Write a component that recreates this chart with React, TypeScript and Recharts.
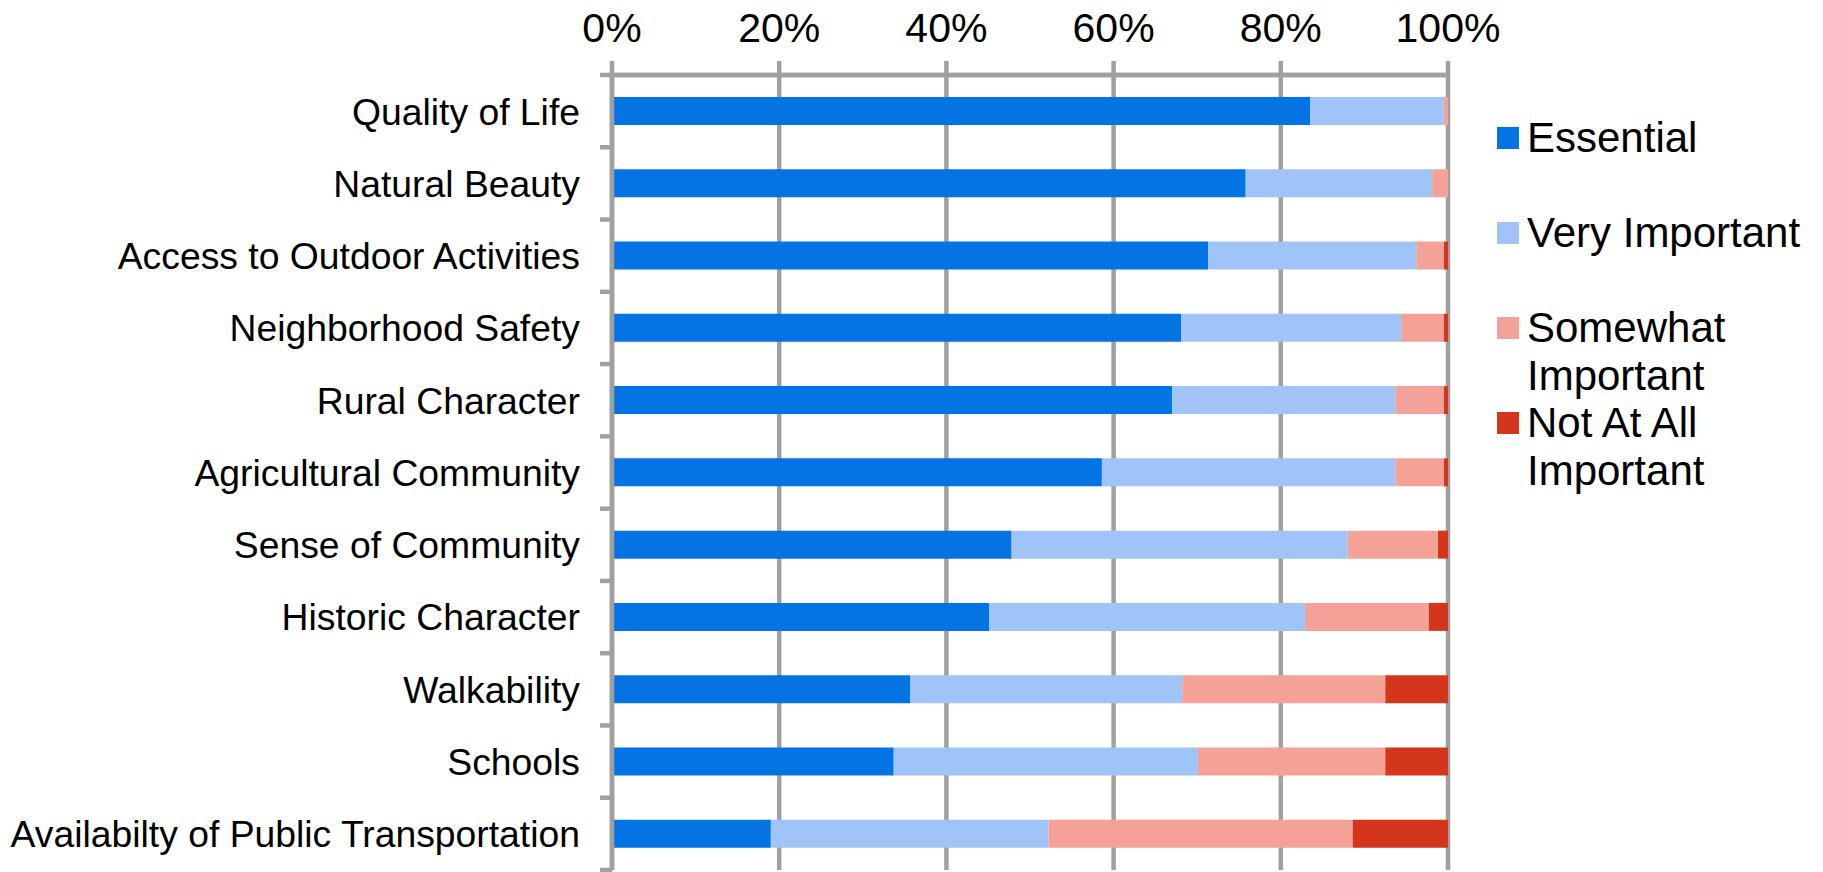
import { BarChart, Bar, XAxis, YAxis, CartesianGrid, Legend } from 'recharts';

const categories = [
  'Quality of Life',
  'Natural Beauty',
  'Access to Outdoor Activities',
  'Neighborhood Safety',
  'Rural Character',
  'Agricultural Community',
  'Sense of Community',
  'Historic Character',
  'Walkability',
  'Schools',
  'Availabilty of Public Transportation',
];

// percent of respondents
const essential = [83.5, 75.8, 71.3, 68.1, 67.0, 58.6, 47.8, 45.1, 35.7, 33.7, 19.0];
const veryImportant = [16.0, 22.3, 24.9, 26.3, 26.7, 35.1, 40.2, 37.8, 32.5, 36.4, 33.2];
const somewhatImportant = [0.5, 1.9, 3.3, 5.1, 5.8, 5.8, 10.8, 14.8, 24.3, 22.4, 36.4];
const notAtAllImportant = [0, 0, 0.5, 0.5, 0.5, 0.5, 1.2, 2.3, 7.5, 7.5, 11.4];

const xTicks = [0, 20, 40, 60, 80, 100];

const series = [
  { key: 'essential', name: 'Essential', color: '#0474E4' },
  { key: 'veryImportant', name: 'Very Important', color: '#A0C4F8' },
  { key: 'somewhatImportant', name: 'Somewhat Important', color: '#F4A298' },
  { key: 'notAtAllImportant', name: 'Not At All Important', color: '#D3361A' },
];

const data = categories.map((c, i) => ({
  category: c,
  essential: essential[i],
  veryImportant: veryImportant[i],
  somewhatImportant: somewhatImportant[i],
  notAtAllImportant: notAtAllImportant[i],
}));

const FONT = '"Liberation Sans", Arial, sans-serif';
const GRID = '#A0A0A0';
const LINE_W = 4.5;
const Y_AXIS_W = 612;
const X_TICK_SIZE = 14;
const X_TICK_MARGIN = 19;

function CategoryTick(props: any) {
  const { x, y, payload, index } = props;
  const half = payload?.offset ?? 36;
  const axisX = x + 32;
  return (
    <g>
      {index === 0 && (
        <line x1={axisX - 12} x2={axisX} y1={y - half} y2={y - half} stroke={GRID} strokeWidth={LINE_W} />
      )}
      <line x1={axisX - 12} x2={axisX} y1={y + half} y2={y + half} stroke={GRID} strokeWidth={LINE_W} />
      <text x={x} y={y} dy="0.36em" textAnchor="end" fill="#000" fontSize={37.3} fontFamily={FONT}>
        {payload.value}
      </text>
    </g>
  );
}

// top axis tick: label, tick stub and the piece of axis line back to the previous tick
function PercentTick(props: any) {
  const { x, y, payload, index } = props;
  const lineY = y + X_TICK_MARGIN + X_TICK_SIZE;
  const prevX = index > 0 ? x - (x - Y_AXIS_W) / index : x;
  return (
    <g>
      <line x1={prevX} x2={x} y1={lineY} y2={lineY} stroke={GRID} strokeWidth={LINE_W} />
      <line x1={x} x2={x} y1={lineY - X_TICK_SIZE} y2={lineY} stroke={GRID} strokeWidth={LINE_W} />
      <text x={x} y={y} textAnchor="middle" fill="#000" fontSize={41} fontFamily={FONT}>
        {`${payload.value}%`}
      </text>
    </g>
  );
}

function LegendBox() {
  return (
    <div style={{ fontFamily: FONT, fontSize: 42, lineHeight: '47.5px', color: '#000' }}>
      {series.map((s) => (
        <div key={s.key} style={{ display: 'flex', alignItems: 'flex-start', height: 95 }}>
          <span
            style={{
              display: 'inline-block',
              width: 22,
              height: 22,
              background: s.color,
              marginTop: 13,
              marginRight: 8,
              flex: 'none',
            }}
          />
          <span style={{ width: 290 }}>{s.name}</span>
        </div>
      ))}
    </div>
  );
}

export default function App() {
  return (
    <div style={{ width: 1823, height: 872, overflow: 'hidden', background: '#fff' }}>
      <style>{`body{margin:0}`}</style>
      <BarChart
        width={1823}
        height={872}
        data={data}
        layout="vertical"
        margin={{ top: 0, right: 375, bottom: 2, left: 0 }}
        barSize={28}
      >
        <CartesianGrid horizontal={false} stroke={GRID} strokeWidth={LINE_W} />
        <XAxis
          type="number"
          orientation="top"
          domain={[0, 100]}
          ticks={xTicks}
          height={75}
          axisLine={{ stroke: GRID, strokeWidth: LINE_W }}
          tickLine={false}
          tickSize={X_TICK_SIZE}
          tickMargin={X_TICK_MARGIN}
          tick={<PercentTick />}
          interval={0}
        />
        <YAxis
          type="category"
          dataKey="category"
          width={Y_AXIS_W}
          axisLine={{ stroke: GRID, strokeWidth: LINE_W }}
          tickLine={false}
          tickSize={10}
          tickMargin={22}
          tick={<CategoryTick />}
          interval={0}
        />
        <Legend
          layout="vertical"
          align="center"
          verticalAlign="middle"
          content={<LegendBox />}
          wrapperStyle={{ left: 1497, top: 114, width: 326, bottom: 'auto', right: 'auto' }}
        />
        {series.map((s) => (
          <Bar
            key={s.key}
            dataKey={s.key}
            name={s.name}
            stackId="a"
            fill={s.color}
            isAnimationActive={false}
          />
        ))}
      </BarChart>
    </div>
  );
}
